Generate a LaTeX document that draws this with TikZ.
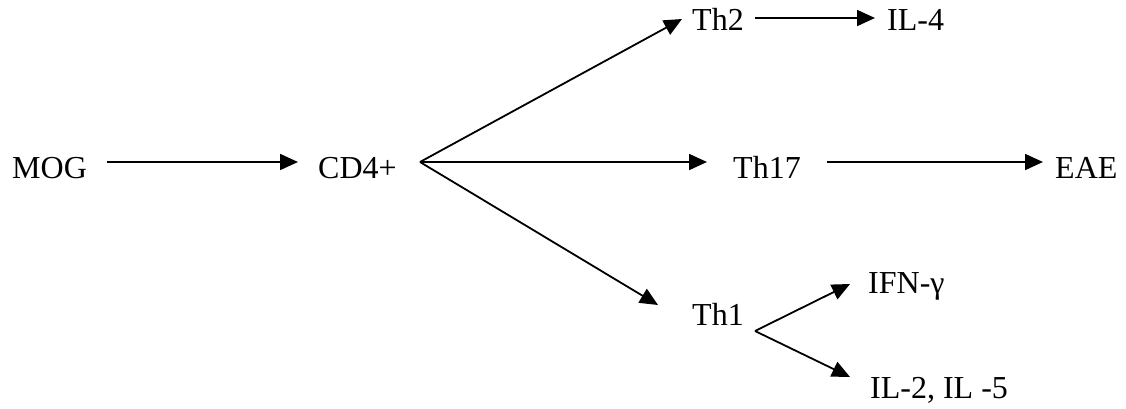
\documentclass[tikz,border=0pt]{standalone}
\usepackage{fontspec}
\setmainfont{Liberation Serif}
\usetikzlibrary{arrows.meta,calc}
\begin{document}
\begin{tikzpicture}[x=1pt,y=-1pt,
  lbl/.style={anchor=base west,inner sep=0pt,font=\fontsize{32}{37}\selectfont},
  conn/.style={line width=1.8pt,-{Triangle[length=18pt,width=16pt]}}]
\path[use as bounding box] (0,0) rectangle (1126,409);

% cell labels
\node[lbl] (mog)  at (12,178)  {MOG};
\node[lbl] (cd4)  at (318,178) {CD4+};
\node[lbl] (th2)  at (692,31)  {Th2};
\node[lbl] (il4)  at (887,31)  {IL-4};
\node[lbl] (th17) at (733,178) {Th17};
\node[lbl] (eae)  at (1055,178) {EAE};
\node[lbl] (th1)  at (692,325) {Th1};
\node[lbl] (ifn)  at (868,293) {IFN-γ};
\node[lbl] (il25) at (870,398) {IL-2, IL -5};

% branching points
\coordinate (fork) at (420,162);
\coordinate (fork1) at (755,331);

% connectors
\draw[conn] ($(mog.base west)+(95,-16)$) -- ($(cd4.base west)+(-20,-16)$);
\draw[conn] (fork) -- ($(th2.base west)+(-10,-12)$);
\draw[conn] (fork) -- ($(th17.base west)+(-26,-16)$);
\draw[conn] (fork) -- ($(th1.base west)+(-34,-20)$);
\draw[conn] ($(th2.base west)+(63,-13)$) -- ($(il4.base west)+(-12,-13)$);
\draw[conn] ($(th17.base west)+(94,-16)$) -- ($(eae.base west)+(-12,-16)$);
\draw[conn] (fork1) -- ($(ifn.base west)+(-18,-9)$);
\draw[conn] (fork1) -- ($(il25.base west)+(-20,-21)$);
\end{tikzpicture}
\end{document}
